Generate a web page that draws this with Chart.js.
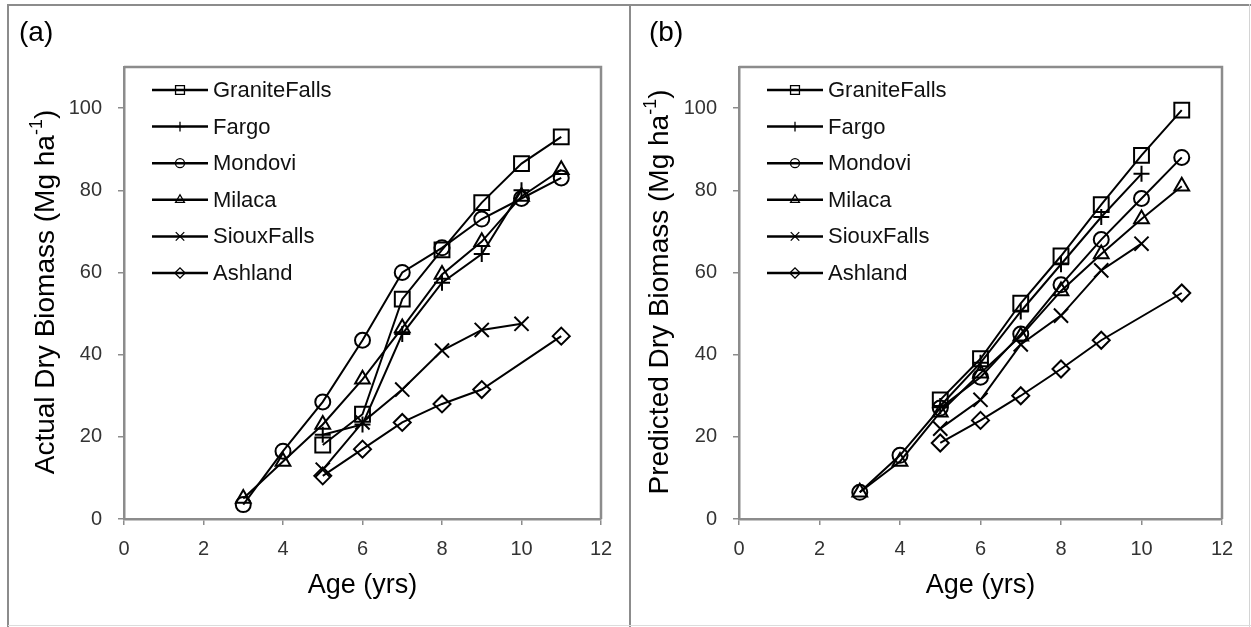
<!DOCTYPE html>
<html>
<head>
<meta charset="utf-8">
<script src="https://cdn.jsdelivr.net/npm/chart.js@4.4.0/dist/chart.umd.min.js"></script>
<style>
  body { margin: 0; background: #fff; }
  #wrap { position: relative; width: 1251px; height: 627px; overflow: hidden; }
  .panel { position: absolute; top: 0; height: 627px; }
  #pa { left: 0; width: 630px; }
  #pb { left: 630px; width: 621px; }
  .rule { position: absolute; background: #8c8c8c; }
</style>
</head>
<body>
<div id="wrap">
  <div class="panel" id="pa"><canvas id="chartA"></canvas></div>
  <div class="panel" id="pb"><canvas id="chartB"></canvas></div>
  <div class="rule" style="left:8px;top:4px;width:1243px;height:2px"></div>
  <div class="rule" style="left:7px;top:4px;width:2px;height:623px"></div>
  <div class="rule" style="left:629px;top:4px;width:2px;height:623px"></div>
  <div class="rule" style="left:1249px;top:4px;width:1px;height:623px;background:#d4d4d4"></div>
  <div class="rule" style="left:8px;top:625px;width:1243px;height:1px;background:#dcdcdc"></div>
</div>
<script>
const ages = [3, 4, 5, 6, 7, 8, 9, 10, 11];
const sites = ['GraniteFalls', 'Fargo', 'Mondovi', 'Milaca', 'SiouxFalls', 'Ashland'];
const xTicks = [0, 2, 4, 6, 8, 10, 12];
const yTicks = [0, 20, 40, 60, 80, 100];

// (a) measured biomass, Mg/ha
const actualGraniteFalls = [null, null, 18, 25.5, 53.5, 65.5, 77, 86.5, 93];
const actualFargo = [null, null, 20.5, 23, 45, 57.5, 64.5, 80, null];
const actualMondovi = [3.5, 16.5, 28.5, 43.5, 60, 66, 73, 78, 83];
const actualMilaca = [5, 14, 23, 34, 46.5, 59.5, 67.5, 78.5, 85];
const actualSiouxFalls = [null, null, 12, 23.5, 31.5, 41, 46, 47.5, null];
const actualAshland = [null, null, 10.5, 17, 23.5, 28, 31.5, null, 44.5];

// (b) model predictions, Mg/ha
const predGraniteFalls = [null, null, 29, 39, 52.5, 64, 76.5, 88.5, 99.5];
const predFargo = [null, null, 27.5, 38, 50.5, 62, 73.5, 84, null];
const predMondovi = [6.5, 15.5, 27, 34.5, 45, 57, 68, 78, 88];
const predMilaca = [6.5, 14, 26, 35.5, 44.5, 55.5, 64.5, 73, 81];
const predSiouxFalls = [null, null, 22, 29, 42.5, 49.5, 60.5, 67, null];
const predAshland = [null, null, 18.5, 24, 30, 36.5, 43.5, null, 55];

const markerStyles = ['rect', 'cross', 'circle', 'triangle', 'crossRot', 'rectRot'];
const markerSizes = [10.5, 8, 7.5, 8.5, 10, 8.5];

const FONT = '"Liberation Sans", Arial, sans-serif';
const GREY = '#8c8c8c';

function toPoints(vals) {
    const pts = [];
    vals.forEach((v, i) => {
        if (v !== null) pts.push({ x: ages[i], y: v });
    });
    return pts;
}

function makeDatasets(series) {
    return series.map((vals, i) => ({
        label: sites[i],
        data: toPoints(vals),
        borderColor: '#000',
        borderWidth: 2,
        pointStyle: markerStyles[i],
        pointRadius: markerSizes[i],
        pointBorderColor: '#000',
        pointBackgroundColor: 'rgba(0,0,0,0)',
        pointBorderWidth: 2,
        tension: 0
    }));
}

// outline on top and right of the plot box
const plotBox = {
    id: 'plotBox',
    beforeDatasetsDraw(chart) {
        const { ctx, chartArea: a } = chart;
        ctx.save();
        ctx.strokeStyle = GREY;
        ctx.lineWidth = 2.5;
        ctx.beginPath();
        ctx.moveTo(a.left, a.top);
        ctx.lineTo(a.right, a.top);
        ctx.lineTo(a.right, a.bottom);
        ctx.stroke();
        ctx.restore();
    }
};

// legend rows: line with the marker in the middle, label to the right
const lineLegend = {
    id: 'lineLegend',
    afterDraw(chart) {
        const { ctx, chartArea: a } = chart;
        chart.data.datasets.forEach((ds, i) => {
            const y = a.top + 23 + i * 36.6;
            const x0 = a.left + 28;
            ctx.save();
            ctx.strokeStyle = '#000';
            ctx.lineWidth = 2.5;
            ctx.beginPath();
            ctx.moveTo(x0, y);
            ctx.lineTo(x0 + 56, y);
            ctx.stroke();
            ctx.lineWidth = 1.3;
            ctx.fillStyle = 'rgba(0,0,0,0)';
            Chart.helpers.drawPoint(ctx, {
                pointStyle: ds.pointStyle,
                radius: ds.pointRadius * 0.6,
                borderWidth: 1.3,
                rotation: 0
            }, x0 + 28, y);
            ctx.fillStyle = '#111';
            ctx.font = '22px ' + FONT;
            ctx.textBaseline = 'middle';
            ctx.fillText(ds.label, x0 + 61, y + 1);
            ctx.restore();
        });
    }
};

// rotated y title with the superscript unit, plus the panel letter
function panelText(cx, title, letter) {
    return {
        id: 'panelText',
        afterDraw(chart) {
            const { ctx, chartArea: a } = chart;
            ctx.save();
            ctx.fillStyle = '#000';
            ctx.textBaseline = 'middle';
            ctx.font = '28px ' + FONT;
            ctx.fillText(letter, 19, 33);

            const main = title + ' (Mg ha';
            const sup = '-1';
            const end = ')';
            ctx.font = '28px ' + FONT;
            const w1 = ctx.measureText(main).width;
            const w3 = ctx.measureText(end).width;
            ctx.font = '18px ' + FONT;
            const w2 = ctx.measureText(sup).width;
            const total = w1 + w2 + w3;
            ctx.translate(cx, (a.top + a.bottom) / 2 - 1);
            ctx.rotate(-Math.PI / 2);
            let x = -total / 2;
            ctx.font = '28px ' + FONT;
            ctx.fillText(main, x, 0);
            x += w1;
            ctx.font = '18px ' + FONT;
            ctx.fillText(sup, x, -9);
            x += w2;
            ctx.font = '28px ' + FONT;
            ctx.fillText(end, x, 0);
            ctx.restore();
        }
    };
}

function makeChart(id, series, axisWidth, titleX, title, letter) {
    return new Chart(document.getElementById(id), {
        type: 'line',
        data: { datasets: makeDatasets(series) },
        options: {
            responsive: true,
            maintainAspectRatio: false,
            animation: false,
            events: [],
            layout: { padding: { top: 67, right: 29, left: 0, bottom: 0 } },
            plugins: { legend: { display: false }, tooltip: { enabled: false } },
            scales: {
                x: {
                    type: 'linear',
                    min: 0,
                    max: 12,
                    afterBuildTicks: s => { s.ticks = xTicks.map(v => ({ value: v })); },
                    afterFit: s => { s.height = 108; },
                    grid: { drawOnChartArea: false, drawTicks: true, tickLength: 6, color: GREY, lineWidth: 1.5 },
                    border: { display: true, color: GREY, width: 2.5 },
                    ticks: { color: '#333', font: { family: FONT, size: 20 }, padding: 12 },
                    title: { display: true, text: 'Age (yrs)', color: '#000', font: { family: FONT, size: 27 }, padding: { top: 0, bottom: 25 } }
                },
                y: {
                    min: 0,
                    max: 110,
                    afterBuildTicks: s => { s.ticks = yTicks.map(v => ({ value: v })); },
                    afterFit: s => { s.width = axisWidth; },
                    grid: { drawOnChartArea: false, drawTicks: true, tickLength: 6, color: GREY, lineWidth: 1.5 },
                    border: { display: true, color: GREY, width: 2.5 },
                    ticks: { color: '#333', font: { family: FONT, size: 20 }, padding: 16 }
                }
            }
        },
        plugins: [plotBox, lineLegend, panelText(titleX, title, letter)]
    });
}

makeChart('chartA',
    [actualGraniteFalls, actualFargo, actualMondovi, actualMilaca, actualSiouxFalls, actualAshland],
    124, 46, 'Actual Dry Biomass', '(a)');
makeChart('chartB',
    [predGraniteFalls, predFargo, predMondovi, predMilaca, predSiouxFalls, predAshland],
    109, 30, 'Predicted Dry Biomass', '(b)');
</script>
</body>
</html>
